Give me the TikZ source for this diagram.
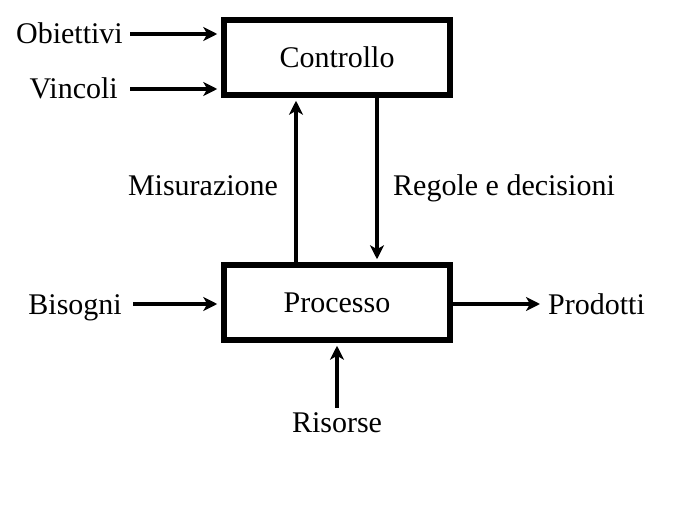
\documentclass[tikz,border=0pt]{standalone}
\usepackage{fontspec}
\setmainfont{Liberation Serif}
\usetikzlibrary{arrows.meta}
\begin{document}
\begin{tikzpicture}[x=1pt,y=-1pt,
  blk/.style={draw, line width=5.5pt, minimum width=226pt, minimum height=75pt, inner sep=0pt, font=\fontsize{30}{36}\selectfont, text height=20pt, text depth=0pt},
  lbl/.style={font=\fontsize{30}{36}\selectfont, inner sep=0pt, text height=20pt, text depth=0pt},
  arr/.style={line width=3.6pt, -{Stealth[length=14pt,width=14pt,inset=4pt]}}]
\useasboundingbox[fill=white] (0,0) rectangle (696,508);
\node[blk] (ctrl) at (337,57.5) {Controllo};
\node[blk] (proc) at (337,302.5) {Processo};
\node[lbl, anchor=east] (ob) at (123,34) {Obiettivi};
\node[lbl, anchor=east] (vin) at (118,89) {Vincoli};
\node[lbl] (mis) at (203,185) {Misurazione};
\node[lbl] (reg) at (504,185) {Regole e decisioni};
\node[lbl, anchor=east] (bis) at (122,304) {Bisogni};
\node[lbl, anchor=west] (prod) at (548,304) {Prodotti};
\node[lbl] (ris) at (337,422) {Risorse};
\draw[arr, shorten >=4pt] ([xshift=7pt]ob.east) -- (ob.east -| ctrl.west);
\draw[arr, shorten >=4pt] ([xshift=12pt]vin.east) -- (vin.east -| ctrl.west);
\draw[arr, shorten >=3pt] ([xshift=-41pt]proc.north) -- ([xshift=-41pt]ctrl.south);
\draw[arr, shorten >=3pt] ([xshift=40pt]ctrl.south) -- ([xshift=40pt]proc.north);
\draw[arr, shorten >=4pt] ([xshift=11pt]bis.east) -- (bis.east -| proc.west);
\draw[arr, shorten >=8pt] (proc.east |- prod.west) -- (prod.west);
\draw[arr, shorten >=3pt] ([yshift=4pt]ris.north) -- (proc.south);
\end{tikzpicture}
\end{document}
